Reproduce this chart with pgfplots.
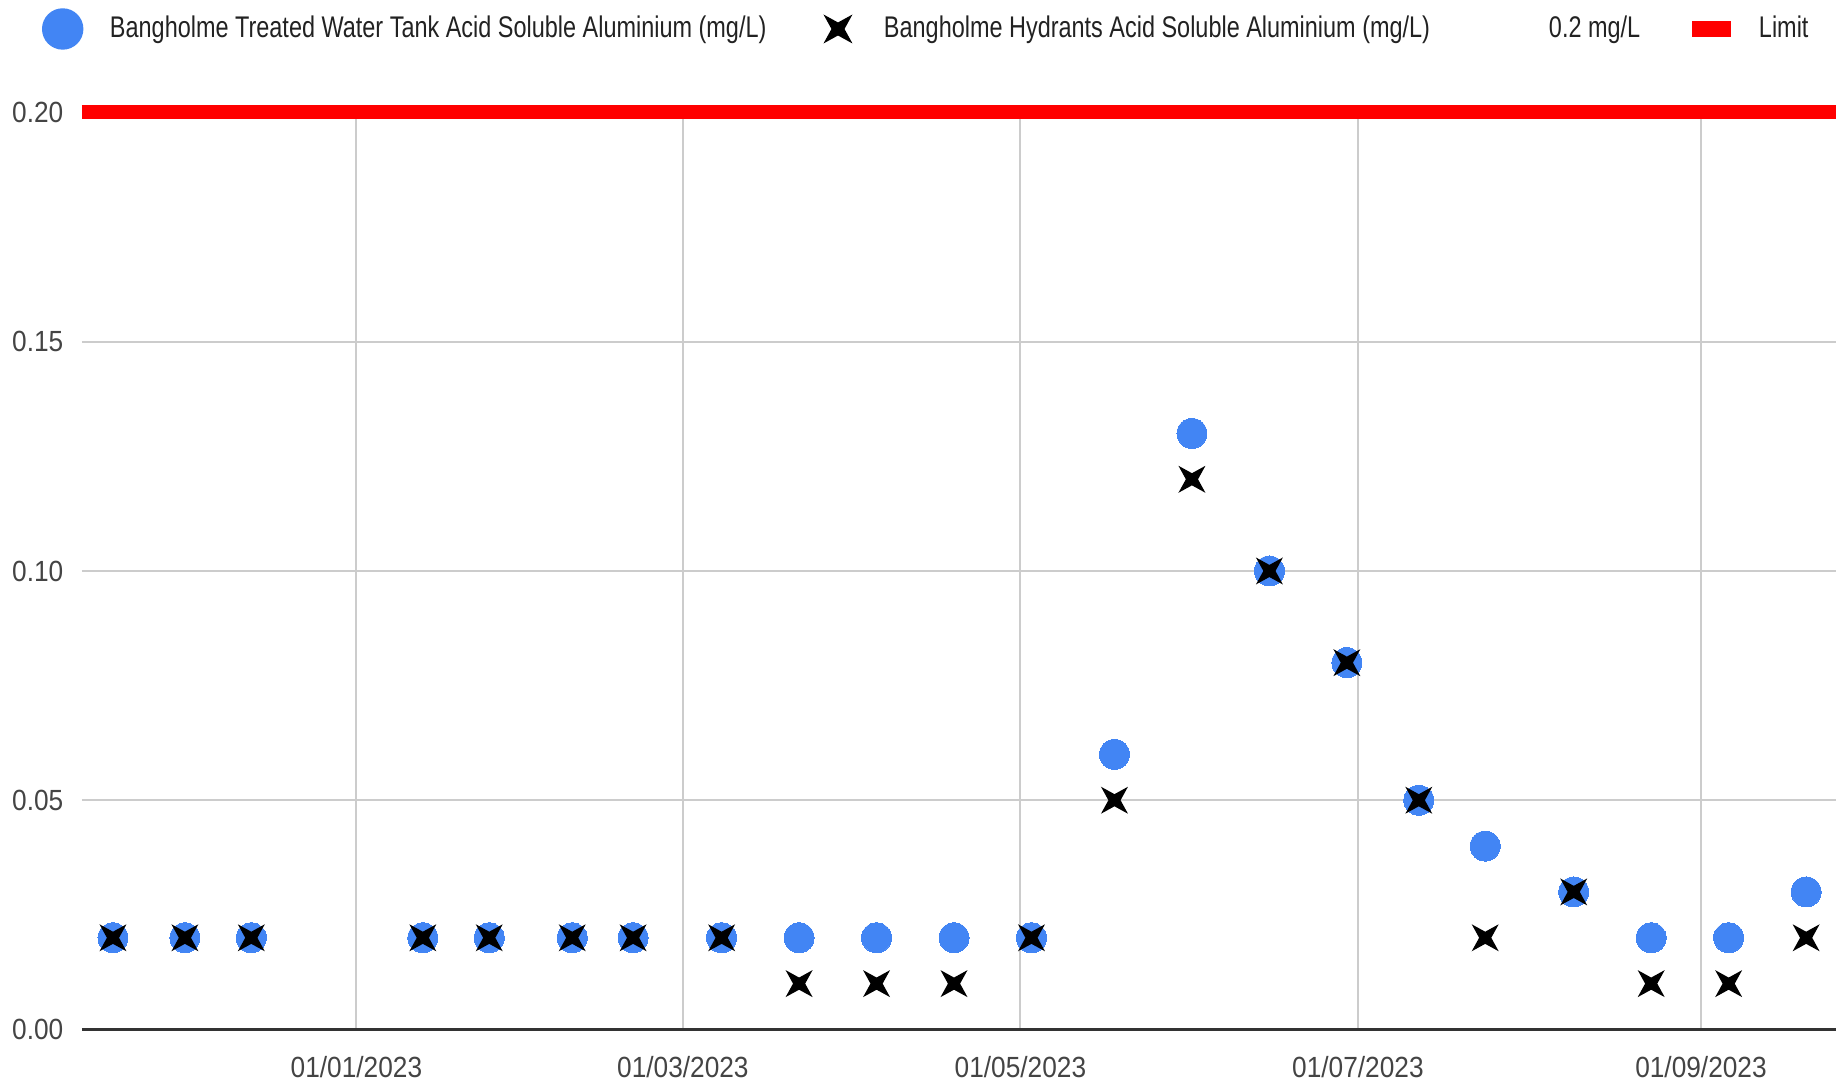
\documentclass[border=0pt]{standalone}
\usepackage{fontspec}
\newfontfamily\legfont[FakeStretch=0.785]{Liberation Sans}
\newfontfamily\tickfont[FakeStretch=0.9]{Liberation Sans}
\usepackage{pgfplots}
\usepackage{pgfplotstable}
\pgfplotsset{compat=1.18}
\definecolor{gblue}{HTML}{4285F4}
\definecolor{gridgray}{HTML}{CCCCCC}
\definecolor{basegray}{HTML}{333333}
\definecolor{legtxt}{HTML}{222222}
\definecolor{ticktxt}{HTML}{444444}
\definecolor{limitred}{HTML}{FF0000}

\pgfdeclareplotmark{xstar}{%
 \pgfpathmoveto{\pgfqpoint{\pgfplotmarksize}{\pgfplotmarksize}}%
 \pgfpathlineto{\pgfqpoint{0pt}{0.45\pgfplotmarksize}}%
 \pgfpathlineto{\pgfqpoint{-\pgfplotmarksize}{\pgfplotmarksize}}%
 \pgfpathlineto{\pgfqpoint{-0.45\pgfplotmarksize}{0pt}}%
 \pgfpathlineto{\pgfqpoint{-\pgfplotmarksize}{-\pgfplotmarksize}}%
 \pgfpathlineto{\pgfqpoint{0pt}{-0.45\pgfplotmarksize}}%
 \pgfpathlineto{\pgfqpoint{\pgfplotmarksize}{-\pgfplotmarksize}}%
 \pgfpathlineto{\pgfqpoint{0.45\pgfplotmarksize}{0pt}}%
 \pgfpathclose
 \pgfusepathqfill
}

% x = days since 01/01/2023
\pgfplotstableread{
x    tank  hydr
-44  0.02  0.02
-31  0.02  0.02
-19  0.02  0.02
12   0.02  0.02
24   0.02  0.02
39   0.02  0.02
50   0.02  0.02
66   0.02  0.02
80   0.02  0.01
94   0.02  0.01
108  0.02  0.01
122  0.02  0.02
137  0.06  0.05
151  0.13  0.12
165  0.10  0.10
179  0.08  0.08
192  0.05  0.05
204  0.04  0.02
220  0.03  0.03
234  0.02  0.01
248  0.02  0.01
262  0.03  0.02
}\datatable

\begin{document}
\begin{tikzpicture}
\useasboundingbox (-8.2mm,-5.7mm) rectangle (175.6mm,102.95mm);
\begin{axis}[
  scale only axis, width=175.4mm, height=91.7mm,
  xmin=-49.6, xmax=267.4, ymin=0, ymax=0.2,
  axis line style={draw=none},
  major tick length=0pt,
  xtick={0,59,120,181,243},
  xticklabels={01/01/2023,01/03/2023,01/05/2023,01/07/2023,01/09/2023},
  ytick={0.05,0.1,0.15,0.2},
  yticklabels={0.05,0.10,0.15,0.20},
  extra y ticks={0}, extra y tick labels={0.00},
  extra y tick style={grid style={basegray, line width=0.3mm}},
  grid=major, grid style={gridgray, line width=0.2mm},
  ticklabel style={font={\tickfont\fontsize{8.3pt}{10pt}\selectfont}, text=ticktxt},
  xticklabel style={anchor=north, inner sep=0pt, yshift=-2.6mm},
  yticklabel style={anchor=east, inner sep=0pt, xshift=-1.8mm},
  clip=false,
  legend columns=-1,
  legend cell align=left,
  legend style={at={(axis description cs:0,1)}, anchor=west, xshift=-4.2mm, yshift=8.35mm,
    draw=none, fill=none, inner sep=0pt, outer sep=0pt, column sep=0pt, row sep=0pt,
    nodes={inner sep=0pt, outer sep=0pt, font={\legfont\fontsize{8.5pt}{10pt}\selectfont}, text=legtxt}},
]
\addlegendimage{legend image code/.code={\path[draw=none, fill=none] (0mm,0mm) -- (7mm,0mm); \fill[gblue] (2.27mm,0mm) circle (2mm);}}
\addlegendentry{\makebox[66.0mm][l]{Bangholme Treated Water Tank Acid Soluble Aluminium (mg/L)}}
\addlegendimage{legend image code/.code={\path[draw=none, fill=none] (0mm,0mm) -- (11.4mm,0mm); \path[black, mark=xstar, mark size=1.45mm] plot coordinates {(6.8mm,0mm)};}}
\addlegendentry{\makebox[55.1mm][l]{Bangholme Hydrants Acid Soluble Aluminium (mg/L)}}
\addlegendimage{legend image code/.code={\path[draw=none, fill=none] (0mm,0mm) -- (11.4mm,0mm);}}
\addlegendentry{\makebox[9.6mm][l]{0.2 mg/L}}
\addlegendimage{legend image code/.code={\path[draw=none, fill=none] (0mm,0mm) -- (11.4mm,0mm); \fill[limitred] (4.8mm,-0.7mm) rectangle (8.5mm,0.7mm);}}
\addlegendentry{Limit}

\addplot[limitred, line width=1.4mm, forget plot] coordinates {(-49.6,0.2) (267.4,0.2)};
\addplot[only marks, gblue, mark=*, mark size=1.5mm, mark options={fill=gblue, draw=gblue, line width=0pt}, forget plot] table[x=x, y=tank] {\datatable};
\addplot[only marks, black, mark=xstar, mark size=1.35mm, mark options={fill=black}, forget plot] table[x=x, y=hydr] {\datatable};
\end{axis}
\end{tikzpicture}
\end{document}
